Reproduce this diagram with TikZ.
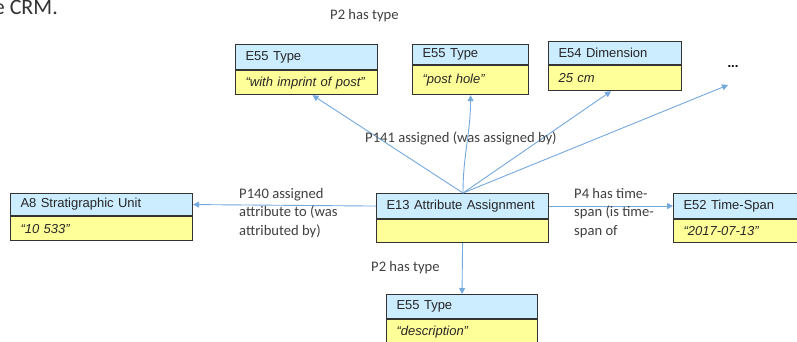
\documentclass[tikz,border=0pt]{standalone}
\usepackage{fontspec}
\setmainfont{Liberation Sans}
\newfontfamily\lblfont{Carlito}
\usetikzlibrary{arrows.meta}

\definecolor{hdrblue}{RGB}{204,236,255}
\definecolor{valyellow}{RGB}{255,255,153}
\definecolor{linkblue}{RGB}{116,169,222}
\definecolor{boxline}{RGB}{51,51,51}
\definecolor{lbltext}{RGB}{64,64,64}

% class box: header cell (name) over a value cell
% #1 id, #2 left x, #3 top y, #4 divider y, #5 bottom y, #6 width, #7 class, #8 value
\newcommand\entitybox[8]{%
  \node[hdr, text width=\the\numexpr#6-20\relax pt,
        minimum height=\the\numexpr#4-#3\relax pt] (#1h) at (#2,#3) {#7};
  \node[val, text width=\the\numexpr#6-20\relax pt,
        minimum height=\the\numexpr#5-#4\relax pt] (#1v) at (#1h.south west) {#8};
}

\begin{document}
\begin{tikzpicture}[x=1pt,y=-1pt,
  cell/.style={draw=boxline, line width=1.1pt, anchor=north west, inner xsep=10pt,
               inner ysep=0pt, align=left, font=\fontsize{13}{15}\selectfont, text=black!85},
  hdr/.style={cell, fill=hdrblue},
  val/.style={cell, fill=valyellow, font=\fontsize{13}{15}\selectfont\itshape},
  link/.style={draw=linkblue, line width=0.9pt, -{Triangle[width=6pt,length=6pt]}},
  lbl/.style={font=\lblfont\fontsize{14.6}{18.5}\selectfont, text=lbltext, inner sep=0pt, align=left}]
\clip (0,0) rectangle (797,341);
\fill[white] (0,0) rectangle (797,341);

% heading fragment at the top
\node[font=\lblfont\fontsize{22}{26}\selectfont, text=black!80, anchor=base east, inner sep=0pt]
  (head) at (58,14) {e CRM.};

% boxes
\entitybox{ta}{235}{44}{69}{93}{142}{E55 Type}{“with imprint of post”}
\entitybox{tb}{412}{44}{64}{93}{116}{E55 Type}{“post hole”}
\entitybox{dim}{548}{41}{64}{89}{133}{E54 Dimension}{25 cm}
\entitybox{su}{10}{193}{215}{239}{182}{A8 Stratigraphic Unit}{“10 533”}
\entitybox{aa}{376}{193}{218}{241}{172}{E13 Attribute Assignment}{}
\entitybox{ts}{673}{193}{218}{241}{160}{E52 Time-Span}{“2017-07-13”}
\entitybox{td}{386}{294}{318}{343}{151}{E55 Type}{“description”}

\node[font=\fontsize{13}{15}\selectfont\bfseries, inner sep=0pt] (dots) at (733,67) {...};
\coordinate (dotsend) at (728,85);
\coordinate (fan) at (463,193);

% connectors
\draw[link] (fan) -- ([xshift=6pt]tav.south);
\draw[link] (fan) to[out=90,in=-90] (tbv.south);
\draw[link] (fan) -- ([xshift=-4pt]dimv.south);
\draw[link] (fan) -- (dotsend);
\draw[link] (aah.west) -- (suh.east);
\draw[link] (aah.east) -- (tsh.west);
\draw[link] (aav.south) -- (tdh.north);

% property labels
\node[lbl, anchor=west] (l1) at (330,16) {P2 has type};
\node[lbl, anchor=west] (l2) at (365,138) {P141 assigned (was assigned by)};
\node[lbl, anchor=west] (l3) at (239,213) {P140 assigned\\attribute to (was\\attributed by)};
\node[lbl, anchor=west] (l4) at (574,213) {P4 has time-\\span (is time-\\span of};
\node[lbl, anchor=west] (l5) at (371,268) {P2 has type};
\end{tikzpicture}
\end{document}
